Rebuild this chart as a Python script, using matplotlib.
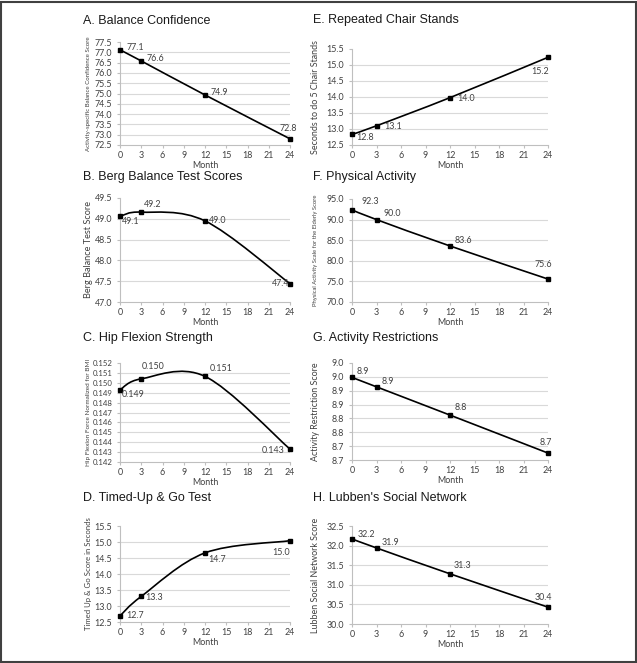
import matplotlib.pyplot as plt
import numpy as np
from matplotlib.path import Path
from matplotlib.patches import PathPatch, Rectangle

# data
months = [0, 3, 12, 24]
month_ticks = [0, 3, 6, 9, 12, 15, 18, 21, 24]

balance_conf = [77.12, 76.58, 74.93, 72.80]
balance_conf_lbl = ["77.1", "76.6", "74.9", "72.8"]
berg = [49.06, 49.16, 48.95, 47.44]
berg_lbl = ["49.1", "49.2", "49.0", "47.4"]
hip_flex = [0.14929, 0.15040, 0.15065, 0.14330]
hip_flex_lbl = ["0.149", "0.150", "0.151", "0.143"]
tug = [12.69, 13.30, 14.66, 15.04]
tug_lbl = ["12.7", "13.3", "14.7", "15.0"]
chair = [12.83, 13.10, 13.98, 15.24]
chair_lbl = ["12.8", "13.1", "14.0", "15.2"]
pase = [92.36, 90.0, 83.6, 75.57]
pase_lbl = ["92.3", "90.0", "83.6", "75.6"]
restrict = [8.948, 8.914, 8.812, 8.675]
restrict_lbl = ["8.9", "8.9", "8.8", "8.7"]
lubben = [32.17, 31.94, 31.28, 30.43]
lubben_lbl = ["32.2", "31.9", "31.3", "30.4"]

# y tick values / labels
a_ticks = [72.5, 73.0, 73.5, 74.0, 74.5, 75.0, 75.5, 76.0, 76.5, 77.0, 77.5]
b_ticks = [47.0, 47.5, 48.0, 48.5, 49.0, 49.5]
c_ticks = [0.142, 0.143, 0.144, 0.145, 0.146, 0.147, 0.148, 0.149, 0.150, 0.151, 0.152]
d_ticks = [12.5, 13.0, 13.5, 14.0, 14.5, 15.0, 15.5]
e_ticks = [12.5, 13.0, 13.5, 14.0, 14.5, 15.0, 15.5]
f_ticks = [70.0, 75.0, 80.0, 85.0, 90.0, 95.0]
g_ticks = [8.65, 8.70, 8.75, 8.80, 8.85, 8.90, 8.95, 9.00]
g_ticklabels = ["8.7", "8.7", "8.8", "8.8", "8.9", "8.9", "9.0", "9.0"]
h_ticks = [30.0, 30.5, 31.0, 31.5, 32.0, 32.5]

W, H = 637, 663
fig = plt.figure(figsize=(W / 100, H / 100), dpi=100)

TICK_FONT = "Lato"
TITLE_FONT = "Liberation Sans"


def smooth_path(x, y):
    # excel-style smoothed line as cubic bezier segments
    pts = list(zip(x, y))
    n = len(pts)
    verts = [pts[0]]
    codes = [Path.MOVETO]
    for i in range(n - 1):
        p0 = pts[max(i - 1, 0)]
        p1 = pts[i]
        p2 = pts[i + 1]
        p3 = pts[min(i + 2, n - 1)]
        c1 = (p1[0] + (p2[0] - p0[0]) / 6, p1[1] + (p2[1] - p0[1]) / 6)
        c2 = (p2[0] - (p3[0] - p1[0]) / 6, p2[1] - (p3[1] - p1[1]) / 6)
        verts += [c1, c2, p2]
        codes += [Path.CURVE4] * 3
    return Path(verts, codes)


def panel(box, title, title_pos, ylabel, ylab_size, vals, lbls, offs, yticks,
          yticklabels=None, fmt="%.1f", ytick_size=6.4):
    l, t, r, b = box
    ax = fig.add_axes([l / W, 1 - b / H, (r - l) / W, (b - t) / H])
    ax.set_xlim(0, 24)
    ax.set_ylim(yticks[0], yticks[-1])
    ax.set_xticks(month_ticks)
    ax.set_yticks(yticks)
    if yticklabels is None:
        yticklabels = [fmt % v for v in yticks]
    ax.set_yticklabels(yticklabels)
    for v in yticks[1:-1]:
        ax.axhline(v, color="#d9d9d9", lw=0.8, zorder=0)
    for s in ["top", "right"]:
        ax.spines[s].set_visible(False)
    for s in ["left", "bottom"]:
        ax.spines[s].set_color("#bfbfbf")
        ax.spines[s].set_linewidth(0.8)
    ax.tick_params(length=2.5, width=0.8, color="#bfbfbf",
                   labelcolor="#404040")
    ax.tick_params(axis="x", pad=2, labelsize=6.4)
    ax.tick_params(axis="y", pad=3, labelsize=ytick_size)
    for lab in ax.get_xticklabels() + ax.get_yticklabels():
        lab.set_family(TICK_FONT)

    ax.add_patch(PathPatch(smooth_path(months, vals), facecolor="none",
                           edgecolor="black", lw=1.2, clip_on=False, zorder=3))
    ax.plot(months, vals, "s", color="black", ms=3.5, clip_on=False, zorder=4)
    for xv, yv, s, (dx, dy, ha) in zip(months, vals, lbls, offs):
        ax.annotate(s, (xv, yv), xytext=(dx, dy), textcoords="offset pixels",
                    ha=ha, va="center", fontsize=6.4, family=TICK_FONT,
                    color="#404040", zorder=5)

    ax.set_xlabel("Month", family=TICK_FONT, fontsize=6.4, color="#404040")
    ax.xaxis.set_label_coords(0.5, -(20.5 / (b - t)))
    ax.xaxis.label.set_va("center")
    ax.set_ylabel(ylabel, family=TICK_FONT, fontsize=ylab_size, color="#404040")
    lab_x = 88 if l < 300 else 315
    ax.yaxis.set_label_coords((lab_x - l) / (r - l), 0.5)
    ax.yaxis.label.set_va("center")

    fig.text(title_pos[0] / W, 1 - title_pos[1] / H, title, family=TITLE_FONT,
             fontsize=9, color="#1a1a1a", va="center", ha="left")
    return ax


LEFT = (120, 290)
RIGHT = (352, 548)

panel((LEFT[0], 42, LEFT[1], 145), "A. Balance Confidence", (83, 21),
      "Activity-specific Balance Confidence Score", 4.4,
      balance_conf, balance_conf_lbl,
      [(7, 2, "left"), (5, 2, "left"), (6, 2, "left"), (-2, 10, "center")],
      a_ticks)

panel((LEFT[0], 198, LEFT[1], 302), "B. Berg Balance Test Scores", (83, 177),
      "Berg Balance Test Score", 6.6,
      berg, berg_lbl,
      [(2, -5, "left"), (3, 8, "left"), (4, 0, "left"), (-1, 0, "right")],
      b_ticks)

panel((LEFT[0], 363, LEFT[1], 462), "C. Hip Flexion Strength", (83, 338),
      "Hip Flexion Force Normalized for BMI", 4.6,
      hip_flex, hip_flex_lbl,
      [(2, -5, "left"), (1, 12, "left"), (5, 8, "left"), (-5, -1, "right")],
      c_ticks, fmt="%.3f", ytick_size=5.6)

panel((LEFT[0], 526, LEFT[1], 622), "D. Timed-Up & Go Test", (83, 498),
      "Timed Up & Go Score in Seconds", 5.6,
      tug, tug_lbl,
      [(6, 0, "left"), (4, -1, "left"), (3, -7, "left"), (-9, -12, "center")],
      d_ticks)

panel((RIGHT[0], 49, RIGHT[1], 145), "E. Repeated Chair Stands", (313, 20),
      "Seconds to do 5 Chair Stands", 6.4,
      chair, chair_lbl,
      [(4, -3, "left"), (8, -1, "left"), (7, -1, "left"), (-8, -14, "center")],
      e_ticks)

panel((RIGHT[0], 199, RIGHT[1], 302), "F. Physical Activity", (313, 177),
      "Physical Activity Scale for the Elderly Score", 4.2,
      pase, pase_lbl,
      [(9, 8, "left"), (7, 6, "left"), (5, 5, "left"), (-5, 15, "center")],
      f_ticks)

panel((RIGHT[0], 363, RIGHT[1], 460), "G. Activity Restrictions", (313, 338),
      "Activity Restriction Score", 6.4,
      restrict, restrict_lbl,
      [(5, 6, "left"), (5, 5, "left"), (5, 8, "left"), (-2, 11, "center")],
      g_ticks, yticklabels=g_ticklabels)

panel((RIGHT[0], 526, RIGHT[1], 624), "H. Lubben's Social Network", (313, 498),
      "Lubben Social Network Score", 6.4,
      lubben, lubben_lbl,
      [(6, 4, "left"), (5, 5, "left"), (4, 8, "left"), (-5, 10, "center")],
      h_ticks)

# outer frame
fig.patches.append(Rectangle((1.5 / W, 1.5 / H), (W - 3) / W, (H - 3) / H,
                             transform=fig.transFigure, fill=False,
                             edgecolor="#404040", lw=1.5))

fig.savefig("out.png", dpi=100)
